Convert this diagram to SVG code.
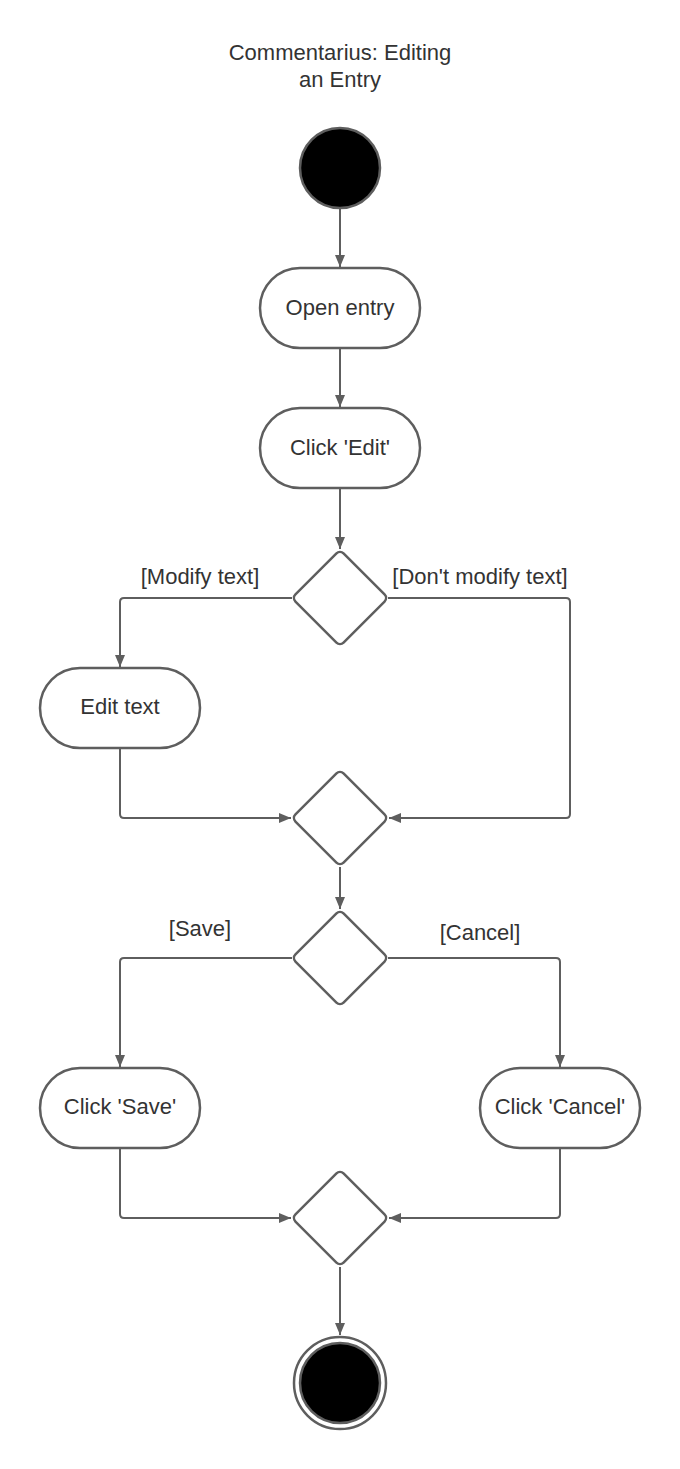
<svg xmlns="http://www.w3.org/2000/svg" width="680" height="1469" viewBox="0 0 680 1469">
<style>
.n{fill:#fff;stroke:#5e5e5e;stroke-width:2.5}
.c{fill:none;stroke:#5e5e5e;stroke-width:2;stroke-linejoin:round}
.t{font-family:"Liberation Sans",Arial,sans-serif;font-size:22px;fill:#333;text-anchor:middle}
</style>
<defs>
<marker id="a" markerUnits="userSpaceOnUse" markerWidth="12" markerHeight="10" refX="12" refY="5" orient="auto">
<path d="M0,0 L12,5 L0,10 z" fill="#5e5e5e"/>
</marker>
</defs>
<rect width="680" height="1469" fill="#fff"/>
<g id="title">
<text class="t" x="340" y="60">Commentarius: Editing</text>
<text class="t" x="340" y="87">an Entry</text>
</g>
<g id="connectors">
<path class="c" d="M340,209 V267" marker-end="url(#a)"/>
<path class="c" d="M340,349 V407" marker-end="url(#a)"/>
<path class="c" d="M340,489 V549" marker-end="url(#a)"/>
<path class="c" d="M292,598 H124 Q120,598 120,602 V667" marker-end="url(#a)"/>
<path class="c" d="M388,598 H566 Q570,598 570,602 V814 Q570,818 566,818 H389" marker-end="url(#a)"/>
<path class="c" d="M120,749 V814 Q120,818 124,818 H291" marker-end="url(#a)"/>
<path class="c" d="M340,867 V909" marker-end="url(#a)"/>
<path class="c" d="M292,958 H124 Q120,958 120,962 V1067" marker-end="url(#a)"/>
<path class="c" d="M388,958 H556 Q560,958 560,962 V1067" marker-end="url(#a)"/>
<path class="c" d="M120,1149 V1214 Q120,1218 124,1218 H291" marker-end="url(#a)"/>
<path class="c" d="M560,1149 V1214 Q560,1218 556,1218 H389" marker-end="url(#a)"/>
<path class="c" d="M340,1267 V1335" marker-end="url(#a)"/>
<text class="t" x="200" y="584">[Modify text]</text>
<text class="t" x="480" y="584">[Don't modify text]</text>
<text class="t" x="200" y="936">[Save]</text>
<text class="t" x="480" y="940">[Cancel]</text>
</g>
<g id="start"><circle cx="340" cy="168" r="40" fill="#000" stroke="#5e5e5e" stroke-width="2.5"/></g>
<g id="open-entry"><rect class="n" x="260" y="268" width="160" height="80" rx="40"/><text class="t" x="340" y="315">Open entry</text></g>
<g id="click-edit"><rect class="n" x="260" y="408" width="160" height="80" rx="40"/><text class="t" x="340" y="455">Click 'Edit'</text></g>
<g id="decision1"><rect class="n" x="306" y="564" width="68" height="68" rx="5" transform="rotate(45 340 598)"/></g>
<g id="edit-text"><rect class="n" x="40" y="668" width="160" height="80" rx="40"/><text class="t" x="120" y="714">Edit text</text></g>
<g id="merge1"><rect class="n" x="306" y="784" width="68" height="68" rx="5" transform="rotate(45 340 818)"/></g>
<g id="decision2"><rect class="n" x="306" y="924" width="68" height="68" rx="5" transform="rotate(45 340 958)"/></g>
<g id="click-save"><rect class="n" x="40" y="1068" width="160" height="80" rx="40"/><text class="t" x="120" y="1114">Click 'Save'</text></g>
<g id="click-cancel"><rect class="n" x="480" y="1068" width="160" height="80" rx="40"/><text class="t" x="560" y="1114">Click 'Cancel'</text></g>
<g id="merge2"><rect class="n" x="306" y="1184" width="68" height="68" rx="5" transform="rotate(45 340 1218)"/></g>
<g id="end"><circle cx="340" cy="1383" r="46" fill="#fff" stroke="#5e5e5e" stroke-width="2.5"/><circle cx="340" cy="1383" r="40" fill="#000" stroke="#5e5e5e" stroke-width="2.5"/></g>
</svg>
